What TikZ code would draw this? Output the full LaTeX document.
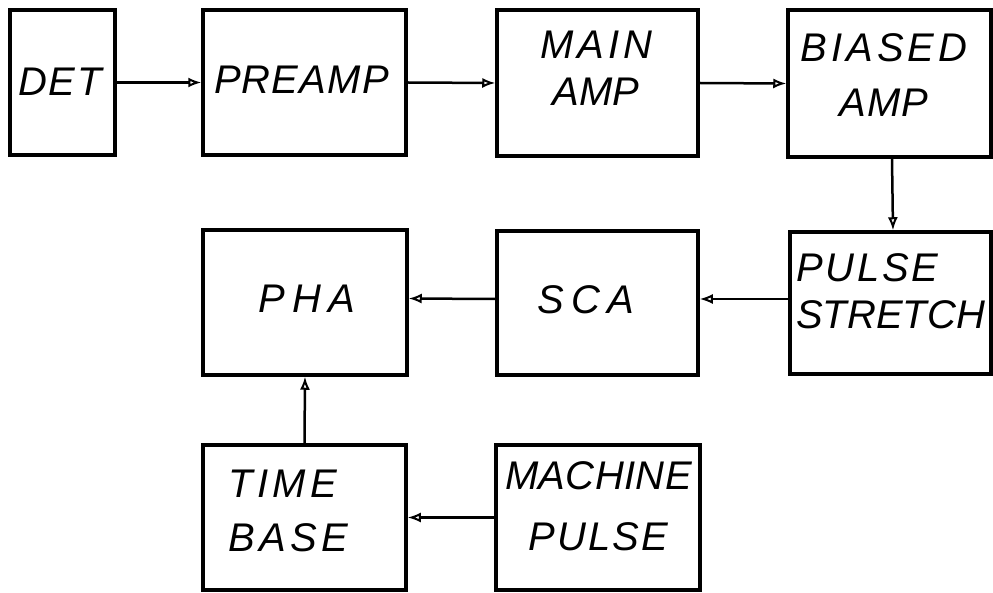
\documentclass[tikz,border=0pt]{standalone}
\usepackage{fontspec}
\setmainfont{Liberation Sans}
\usetikzlibrary{arrows.meta}
\newcommand{\ls}[2]{{\addfontfeature{LetterSpace=#1}#2}}
\tikzset{
  blk/.style={draw, line width=3.5pt, inner sep=0pt, rectangle},
  lab/.style={inner sep=0pt, font=\itshape\fontsize{40}{47}\selectfont},
  flow/.style={line width=2.5pt, -{Latex[open, length=13pt, width=10pt, line width=2pt]}}
}
\begin{document}
\begin{tikzpicture}[x=1pt, y=-1pt]
\useasboundingbox (0,0) rectangle (993,593);
% boxes
\node[blk, minimum width=105pt, minimum height=145pt] (det) at (62.5,82.5) {};
\node[blk, minimum width=203pt, minimum height=145pt] (pre) at (304.5,82.5) {};
\node[blk, minimum width=201pt, minimum height=146pt] (main) at (597.5,83) {};
\node[blk, minimum width=203pt, minimum height=147pt] (bias) at (889.5,83.5) {};
\node[blk, minimum width=201pt, minimum height=142pt] (stretch) at (890.5,303) {};
\node[blk, minimum width=201pt, minimum height=144pt] (sca) at (597.5,303) {};
\node[blk, minimum width=204pt, minimum height=145pt] (pha) at (305,302.5) {};
\node[blk, minimum width=203pt, minimum height=145pt] (time) at (304.5,517.5) {};
\node[blk, minimum width=204pt, minimum height=145pt] (mach) at (598,517.5) {};
% labels
\node[lab] (detT) at (60,82) {\ls{4}{DET}};
\node[lab] (preT) at (301.5,80) {\ls{3}{PREAMP}};
\node[lab, align=center] (mainT) at (596,68.5) {\ls{10}{MAIN}\\\ls{0}{AMP}};
\node[lab, align=center, font=\itshape\fontsize{40}{55}\selectfont] (biasT) at (884,75) {\ls{10}{BIASED}\\\ls{2}{AMP}};
\node[lab, align=left, anchor=west] (stretchT) at (796,291.5) {\ls{7}{PULSE}\\\ls{0}{STRETCH}};
\node[lab] (scaT) at (586,300) {\ls{18}{SCA}};
\node[lab] (phaT) at (307,299) {\ls{18}{PHA}};
\node[lab, align=left, anchor=west, font=\itshape\fontsize{40}{54}\selectfont] (timeT) at (228,511) {\ls{11}{TIME}\\\ls{11}{BASE}};
\node[lab, align=center, font=\itshape\fontsize{40}{61}\selectfont] (machT) at (598.5,506) {\ls{1}{MACHINE}\\\ls{5}{PULSE}};
% connectors
\draw[flow] (det.east) -- (pre.west);
\draw[flow] (pre.east) -- (main.west);
\draw[flow] (main.east) -- (bias.west);
\draw[flow] ([xshift=2.5pt]bias.south) -- ([xshift=2.5pt]stretch.north);
\draw[flow] ([yshift=4pt]stretch.west) -- ([yshift=4pt]sca.east);
\draw[flow] ([yshift=4pt]sca.west) -- ([yshift=4pt]pha.east);
\draw[flow] (mach.west) -- (time.east);
\draw[flow] (time.north) -- (pha.south);
\end{tikzpicture}
\end{document}
